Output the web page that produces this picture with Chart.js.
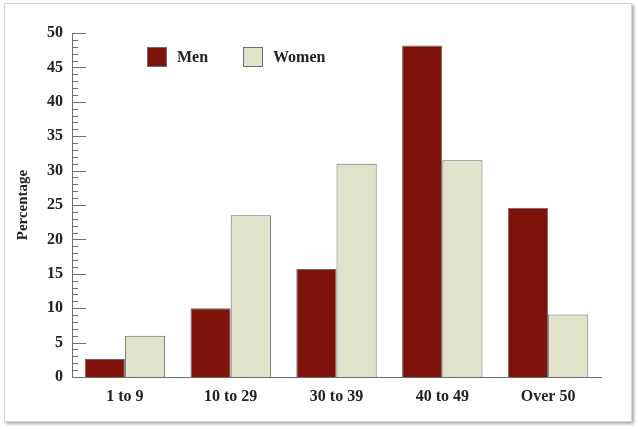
<!DOCTYPE html>
<html>
<head>
<meta charset="utf-8">
<script src="https://cdn.jsdelivr.net/npm/chart.js@4"></script>
<style>
  html, body { margin: 0; padding: 0; background: #ffffff; }
  #frame { position: absolute; left: 4px; top: 3px; width: 626px; height: 417px;
           border: 1px solid #d6d6d6; box-shadow: 2px 2px 3px rgba(0,0,0,0.35); background: #fff; }
  #c { position: absolute; left: 0; top: 0; }
</style>
</head>
<body>
<div id="frame"></div>
<canvas id="c" width="638" height="430"></canvas>
<script>
const categories = ['1 to 9', '10 to 29', '30 to 39', '40 to 49', 'Over 50'];
const menValues = [2.6, 10.0, 15.7, 48.2, 24.6];
const womenValues = [6.0, 23.5, 31.0, 31.5, 9.1];
const seriesNames = ['Men', 'Women'];
const seriesColors = ['#7f120b', '#e0e3c9'];
const yMax = 50;

const FONT = "'Liberation Serif', 'Times New Roman', serif";

const tickPlugin = {
  id: 'minorTicks',
  afterDraw(chart) {
    const ctx = chart.ctx;
    const y = chart.scales.y;
    const x0 = y.right;
    ctx.save();
    ctx.strokeStyle = '#6f6f6f';
    ctx.lineWidth = 1;
    for (let v = 0; v <= yMax; v++) {
      const py = Math.round(y.getPixelForValue(v)) + 0.5;
      const len = v % 5 === 0 ? 14 : 6;
      ctx.beginPath();
      ctx.moveTo(x0, py);
      ctx.lineTo(x0 + len, py);
      ctx.stroke();
    }
    ctx.restore();
  }
};

const legendPlugin = {
  id: 'customLegend',
  afterDraw(chart) {
    const ctx = chart.ctx;
    const area = chart.chartArea;
    ctx.save();
    ctx.font = 'bold 16px ' + FONT;
    ctx.textBaseline = 'middle';
    ctx.textAlign = 'left';
    const positions = [area.left + 75, area.left + 171];
    chart.data.datasets.forEach((ds, i) => {
      const bx = positions[i];
      const by = area.top + 14;
      ctx.fillStyle = ds.backgroundColor;
      ctx.fillRect(bx, by, 20, 20);
      ctx.strokeStyle = '#6f6f6f';
      ctx.lineWidth = 1;
      ctx.strokeRect(bx + 0.5, by + 0.5, 19, 19);
      ctx.fillStyle = '#222';
      ctx.fillText(ds.label, bx + 30, by + 11);
    });
    ctx.restore();
  }
};

new Chart(document.getElementById('c'), {
  type: 'bar',
  data: {
    labels: categories,
    datasets: [
      { label: seriesNames[0], data: menValues, backgroundColor: seriesColors[0],
        borderColor: '#6a6a6a', borderWidth: 1, categoryPercentage: 0.76, barPercentage: 1.0 },
      { label: seriesNames[1], data: womenValues, backgroundColor: seriesColors[1],
        borderColor: '#6a6a6a', borderWidth: 1, categoryPercentage: 0.76, barPercentage: 1.0 }
    ]
  },
  options: {
    responsive: false,
    animation: false,
    layout: { padding: { left: 0, top: 33, right: 37, bottom: 0 } },
    plugins: { legend: { display: false }, tooltip: { enabled: false } },
    scales: {
      x: {
        grid: { display: false, drawTicks: false },
        border: { display: true, color: '#6f6f6f', width: 1 },
        ticks: { color: '#222', padding: 10, font: { family: FONT, size: 16, weight: 'bold' }, maxRotation: 0 },
        afterFit(scale) { scale.height = 53; }
      },
      y: {
        min: 0, max: yMax,
        grid: { display: false, drawTicks: false },
        border: { display: true, color: '#6f6f6f', width: 1 },
        ticks: { stepSize: 5, color: '#222', padding: 9, font: { family: FONT, size: 16, weight: 'bold' } },
        title: { display: true, text: 'Percentage', color: '#222', padding: { top: 14, bottom: 0 },
                 font: { family: FONT, size: 15, weight: 'bold' } },
        afterFit(scale) { scale.width = 72; }
      }
    }
  },
  plugins: [tickPlugin, legendPlugin]
});
</script>
</body>
</html>
